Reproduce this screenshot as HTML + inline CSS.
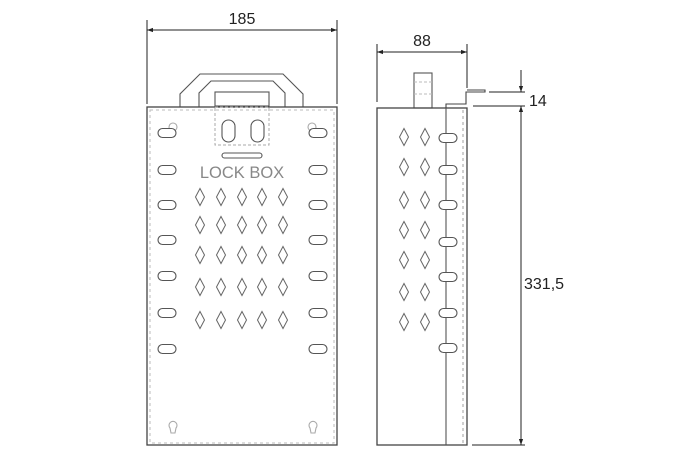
<!DOCTYPE html>
<html><head><style>body{margin:0;background:#fff}svg{display:block}</style></head><body>
<svg width="696" height="457" viewBox="0 0 696 457" xmlns="http://www.w3.org/2000/svg" font-family="Liberation Sans, sans-serif">
<defs>
<marker id="a" viewBox="0 0 10 10" refX="10" refY="5" markerWidth="8" markerHeight="6" orient="auto-start-reverse" markerUnits="userSpaceOnUse"><path d="M0,1.5L10,5L0,8.5z" fill="#222"/></marker>
<g id="d"><path d="M0,-8.5L4.5,0L0,8.5L-4.5,0Z" fill="none" stroke="#666" stroke-width="1"/></g>
<g id="s"><rect x="-9" y="-4.5" width="18" height="9" rx="4.5" fill="#fff" stroke="#555" stroke-width="1.1"/></g>
</defs>
<g stroke="#222" stroke-width="1" fill="none">
<line x1="147" y1="20" x2="147" y2="104"/><line x1="337" y1="20" x2="337" y2="104"/>
<line x1="147" y1="30" x2="337" y2="30" marker-start="url(#a)" marker-end="url(#a)"/>
<line x1="377" y1="44" x2="377" y2="102"/><line x1="467" y1="44" x2="467" y2="88"/>
<line x1="377" y1="52" x2="467" y2="52" marker-start="url(#a)" marker-end="url(#a)"/>
<line x1="489" y1="92" x2="525" y2="92"/><line x1="473" y1="106" x2="525" y2="106"/>
<line x1="521" y1="70" x2="521" y2="92" marker-end="url(#a)"/>
<line x1="521" y1="106" x2="521" y2="445" marker-start="url(#a)" marker-end="url(#a)"/>
<line x1="472" y1="445" x2="525" y2="445"/>
</g>
<g fill="#222" font-size="16">
<text x="242" y="24" text-anchor="middle">185</text>
<text x="422" y="46" text-anchor="middle">88</text>
<text x="529" y="106">14</text>
<text x="524" y="289">331,5</text>
</g>
<g stroke="#555" fill="none" stroke-width="1.1">
<path d="M180,107V94L200,74H283L303,94V107"/>
<path d="M199,107V93L211,81H273L285,93V107"/>
<rect x="215" y="92" width="54" height="14"/>
<rect x="147" y="107" width="190" height="338" stroke="#444" stroke-width="1.3"/>
<rect x="150" y="110" width="184" height="333" stroke="#bbb" stroke-dasharray="3 3" stroke-width="1"/>
<rect x="215" y="107" width="54" height="38" stroke="#aaa" stroke-dasharray="3 2" stroke-width="1"/>
<rect x="222" y="120" width="13" height="22" rx="6.5"/>
<rect x="251" y="120" width="13" height="22" rx="6.5"/>
<rect x="222" y="153" width="40" height="5" rx="2.5"/>
<circle cx="173" cy="127" r="4" stroke="#aaa"/><circle cx="312" cy="127" r="4" stroke="#aaa"/>
<path d="M170,428a4,4 0 1 1 6,0l-1,5h-4z" stroke="#aaa"/>
<path d="M310,428a4,4 0 1 1 6,0l-1,5h-4z" stroke="#aaa"/>
</g>
<text x="242" y="178" text-anchor="middle" font-size="16.5" fill="#888">LOCK BOX</text>
<g>
<use href="#s" x="167" y="133"/><use href="#s" x="318" y="133"/>
<use href="#s" x="167" y="170"/><use href="#s" x="318" y="170"/>
<use href="#s" x="167" y="205"/><use href="#s" x="318" y="205"/>
<use href="#s" x="167" y="240"/><use href="#s" x="318" y="240"/>
<use href="#s" x="167" y="276"/><use href="#s" x="318" y="276"/>
<use href="#s" x="167" y="313"/><use href="#s" x="318" y="313"/>
<use href="#s" x="167" y="349"/><use href="#s" x="318" y="349"/>
</g>
<g>
<use href="#d" x="200" y="197"/><use href="#d" x="221" y="197"/><use href="#d" x="242" y="197"/><use href="#d" x="262" y="197"/><use href="#d" x="283" y="197"/>
<use href="#d" x="200" y="225"/><use href="#d" x="221" y="225"/><use href="#d" x="242" y="225"/><use href="#d" x="262" y="225"/><use href="#d" x="283" y="225"/>
<use href="#d" x="200" y="255"/><use href="#d" x="221" y="255"/><use href="#d" x="242" y="255"/><use href="#d" x="262" y="255"/><use href="#d" x="283" y="255"/>
<use href="#d" x="200" y="287"/><use href="#d" x="221" y="287"/><use href="#d" x="242" y="287"/><use href="#d" x="262" y="287"/><use href="#d" x="283" y="287"/>
<use href="#d" x="200" y="320"/><use href="#d" x="221" y="320"/><use href="#d" x="242" y="320"/><use href="#d" x="262" y="320"/><use href="#d" x="283" y="320"/>
</g>
<g stroke="#555" fill="none" stroke-width="1.1">
<rect x="414" y="73" width="18" height="35"/>
<line x1="414" y1="82" x2="432" y2="82" stroke="#bbb" stroke-dasharray="3 2"/>
<line x1="414" y1="94" x2="432" y2="94" stroke="#bbb" stroke-dasharray="3 2"/>
<rect x="377" y="108" width="90" height="337" stroke="#444" stroke-width="1.3"/>
<line x1="446" y1="108" x2="446" y2="445"/>
<line x1="463" y1="110" x2="463" y2="443" stroke="#aaa" stroke-dasharray="3 3"/>
<path d="M446,108V104H466V92H485V90H467" stroke="#444"/>
</g>
<g>
<use href="#s" x="448" y="138"/><use href="#s" x="448" y="170"/><use href="#s" x="448" y="205"/><use href="#s" x="448" y="242"/><use href="#s" x="448" y="277"/><use href="#s" x="448" y="313"/><use href="#s" x="448" y="348"/>
<use href="#d" x="404" y="137"/><use href="#d" x="425" y="137"/>
<use href="#d" x="404" y="167"/><use href="#d" x="425" y="167"/>
<use href="#d" x="404" y="200"/><use href="#d" x="425" y="200"/>
<use href="#d" x="404" y="230"/><use href="#d" x="425" y="230"/>
<use href="#d" x="404" y="260"/><use href="#d" x="425" y="260"/>
<use href="#d" x="404" y="292"/><use href="#d" x="425" y="292"/>
<use href="#d" x="404" y="322"/><use href="#d" x="425" y="322"/>
</g>
</svg>
</body></html>
